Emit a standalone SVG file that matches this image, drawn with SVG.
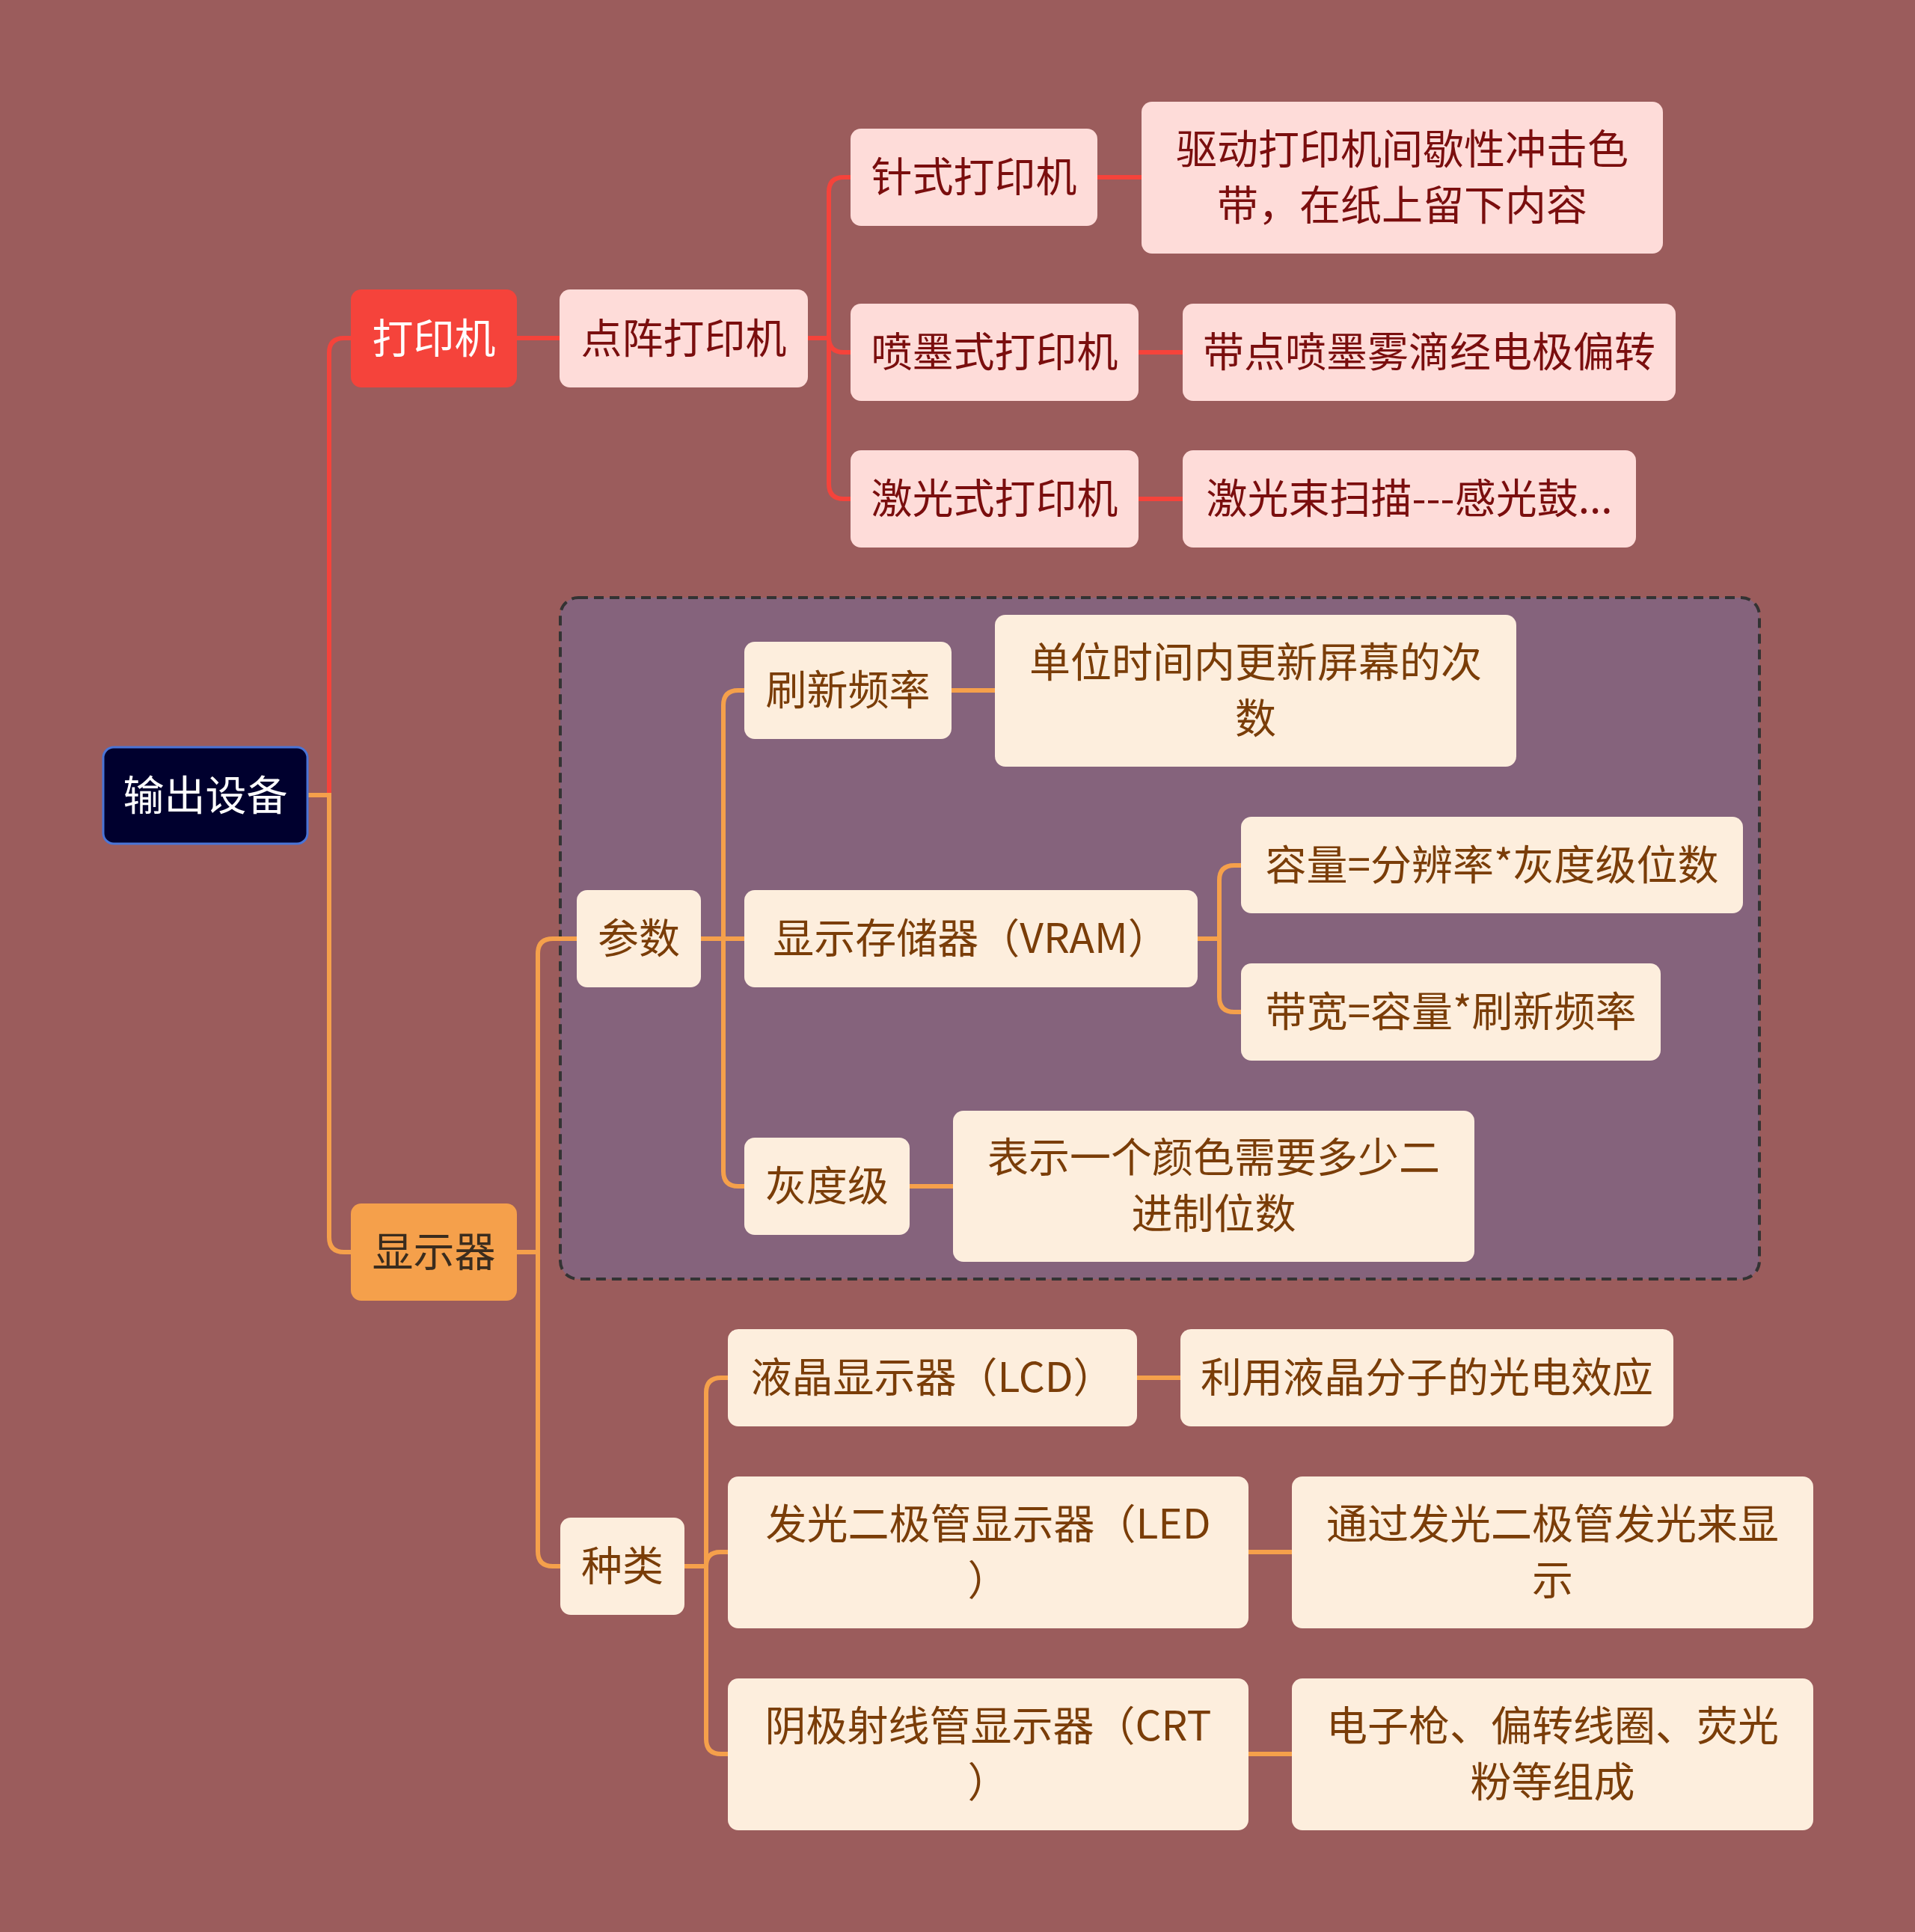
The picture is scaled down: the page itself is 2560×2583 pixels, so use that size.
<svg xmlns="http://www.w3.org/2000/svg" width="2560" height="2583" viewBox="0 0 2560 2583">
<style>
text{font-family:"Noto Sans CJK SC","Noto Sans",sans-serif;font-size:55px;text-anchor:middle}
.pk rect{fill:#fedcd9}
.pk text{fill:#7a0e0e}
.cr rect{fill:#fdeedd}
.cr text{fill:#7a3d08}
.red{fill:none;stroke:#f5433b;stroke-width:6;stroke-linecap:butt}
.org{fill:none;stroke:#f5a04b;stroke-width:6;stroke-linecap:butt}
</style>
<rect x="0" y="0" width="2560" height="2583" fill="#9b5c5c"/>
<rect id="group-box" x="749" y="799" width="1603" height="911" rx="24" fill="#85637c" stroke="#333333" stroke-width="4" stroke-dasharray="13 8"/>
<g id="connectors">
<path class="red" d="M411,1063 H440 V472 Q440,452 460,452 H469"/>
<path class="red" d="M691,452 H748"/>
<path class="red" d="M1080,452 H1108 V257 Q1108,237 1128,237 H1137"/>
<path class="red" d="M1108,452 V451 Q1108,471 1128,471 H1137"/>
<path class="red" d="M1108,452 V647 Q1108,667 1128,667 H1137"/>
<path class="red" d="M1467,237 H1526"/>
<path class="red" d="M1522,471 H1581"/>
<path class="red" d="M1522,667 H1581"/>
<path class="org" d="M411,1063 H440 V1654 Q440,1674 460,1674 H469"/>
<path class="org" d="M691,1674 H719 V1275 Q719,1255 739,1255 H771"/>
<path class="org" d="M719,1674 V2074 Q719,2094 739,2094 H749"/>
<path class="org" d="M937,1255 H967 V943 Q967,923 987,923 H995"/>
<path class="org" d="M967,1255 H995"/>
<path class="org" d="M967,1255 V1566 Q967,1586 987,1586 H995"/>
<path class="org" d="M1601,1255 H1630 V1177 Q1630,1157 1650,1157 H1659"/>
<path class="org" d="M1630,1255 V1333 Q1630,1353 1650,1353 H1659"/>
<path class="org" d="M1272,923 H1330"/>
<path class="org" d="M1216,1586 H1274"/>
<path class="org" d="M915,2094 H944 V1862 Q944,1842 964,1842 H973"/>
<path class="org" d="M944,2094 Q944,2075 963,2075 H973"/>
<path class="org" d="M944,2094 V2325 Q944,2345 964,2345 H973"/>
<path class="org" d="M1520,1842 H1578"/>
<path class="org" d="M1669,2075 H1727"/>
<path class="org" d="M1669,2345 H1727"/>
</g>
<g id="root">
<rect x="138" y="999" width="273" height="129" rx="14" fill="#00002e" stroke="#4a74d6" stroke-width="3"/>
<text x="274.5" y="1083" fill="#ffffff">输出设备</text>
</g>
<g id="printer">
<rect x="469" y="387" width="222" height="131" rx="14" fill="#f5433b"/>
<text x="580" y="472" fill="#ffffff">打印机</text>
</g>
<g id="dot-matrix" class="pk">
<rect x="748" y="387" width="332" height="131" rx="14"/>
<text x="914" y="472">点阵打印机</text>
</g>
<g id="needle" class="pk">
<rect x="1137" y="172" width="330" height="130" rx="14"/>
<text x="1302" y="256">针式打印机</text>
</g>
<g id="needle-desc" class="pk">
<rect x="1526" y="136" width="697" height="203" rx="14"/>
<text x="1874.5" y="219">驱动打印机间歇性冲击色</text>
<text x="1874.5" y="294">带，在纸上留下内容</text>
</g>
<g id="inkjet" class="pk">
<rect x="1137" y="406" width="385" height="130" rx="14"/>
<text x="1329.5" y="490">喷墨式打印机</text>
</g>
<g id="inkjet-desc" class="pk">
<rect x="1581" y="406" width="659" height="130" rx="14"/>
<text x="1910.5" y="490">带点喷墨雾滴经电极偏转</text>
</g>
<g id="laser" class="pk">
<rect x="1137" y="602" width="385" height="130" rx="14"/>
<text x="1329.5" y="686">激光式打印机</text>
</g>
<g id="laser-desc" class="pk">
<rect x="1581" y="602" width="606" height="130" rx="14"/>
<text x="1884" y="686">激光束扫描---感光鼓...</text>
</g>
<g id="monitor">
<rect x="469" y="1609" width="222" height="130" rx="14" fill="#f5a04b"/>
<text x="580" y="1693" fill="#3a2c1e">显示器</text>
</g>
<g id="params" class="cr">
<rect x="771" y="1190" width="166" height="130" rx="14"/>
<text x="854" y="1274">参数</text>
</g>
<g id="refresh" class="cr">
<rect x="995" y="858" width="277" height="130" rx="14"/>
<text x="1133.5" y="942">刷新频率</text>
</g>
<g id="refresh-desc" class="cr">
<rect x="1330" y="822" width="697" height="203" rx="14"/>
<text x="1678.5" y="905">单位时间内更新屏幕的次</text>
<text x="1678.5" y="980">数</text>
</g>
<g id="vram" class="cr">
<rect x="995" y="1190" width="606" height="130" rx="14"/>
<text x="1298" y="1274">显示存储器（VRAM）</text>
</g>
<g id="capacity" class="cr">
<rect x="1659" y="1092" width="671" height="129" rx="14"/>
<text x="1994.5" y="1176">容量=分辨率*灰度级位数</text>
</g>
<g id="bandwidth" class="cr">
<rect x="1659" y="1288" width="561" height="130" rx="14"/>
<text x="1939.5" y="1372">带宽=容量*刷新频率</text>
</g>
<g id="gray" class="cr">
<rect x="995" y="1521" width="221" height="130" rx="14"/>
<text x="1105.5" y="1605">灰度级</text>
</g>
<g id="gray-desc" class="cr">
<rect x="1274" y="1485" width="697" height="202" rx="14"/>
<text x="1622.5" y="1567">表示一个颜色需要多少二</text>
<text x="1622.5" y="1642">进制位数</text>
</g>
<g id="types" class="cr">
<rect x="749" y="2029" width="166" height="130" rx="14"/>
<text x="832" y="2113">种类</text>
</g>
<g id="lcd" class="cr">
<rect x="973" y="1777" width="547" height="130" rx="14"/>
<text x="1246.5" y="1861">液晶显示器（LCD）</text>
</g>
<g id="lcd-desc" class="cr">
<rect x="1578" y="1777" width="659" height="130" rx="14"/>
<text x="1907.5" y="1861">利用液晶分子的光电效应</text>
</g>
<g id="led" class="cr">
<rect x="973" y="1974" width="696" height="203" rx="14"/>
<text x="1321" y="2057">发光二极管显示器（LED</text>
<text x="1321" y="2132">）</text>
</g>
<g id="led-desc" class="cr">
<rect x="1727" y="1974" width="697" height="203" rx="14"/>
<text x="2075.5" y="2057">通过发光二极管发光来显</text>
<text x="2075.5" y="2132">示</text>
</g>
<g id="crt" class="cr">
<rect x="973" y="2244" width="696" height="203" rx="14"/>
<text x="1321" y="2327">阴极射线管显示器（CRT</text>
<text x="1321" y="2402">）</text>
</g>
<g id="crt-desc" class="cr">
<rect x="1727" y="2244" width="697" height="203" rx="14"/>
<text x="2075.5" y="2327">电子枪、偏转线圈、荧光</text>
<text x="2075.5" y="2402">粉等组成</text>
</g>
</svg>
